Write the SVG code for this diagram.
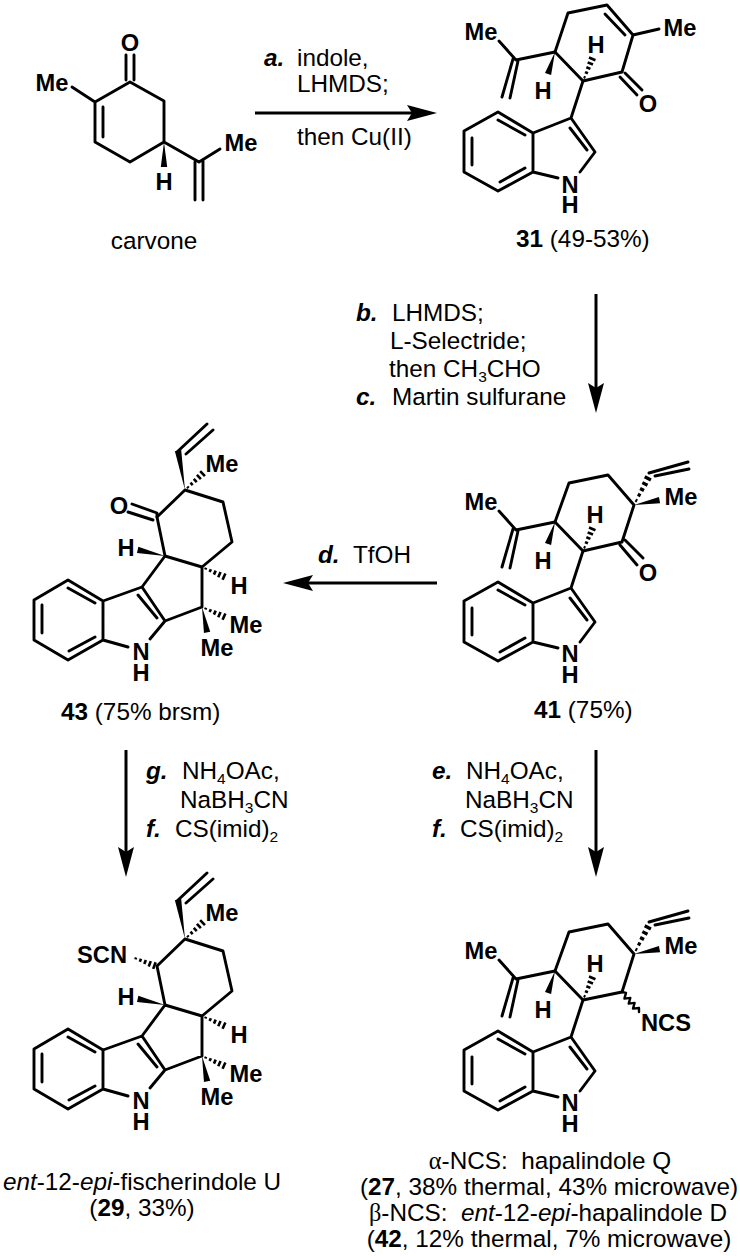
<svg xmlns="http://www.w3.org/2000/svg" width="740" height="1256" viewBox="0 0 740 1256">
<style>
text{font-family:"Liberation Sans",Arial,sans-serif;font-size:24.3px;fill:#000}
.a{font-weight:bold;font-size:23.7px}
.r{font-weight:bold;font-style:italic}
.c{text-anchor:middle}
.n{font-weight:bold}
.i{font-style:italic}
.g{font-family:"Liberation Serif","Times New Roman",serif}
.s{font-size:15.5px}
.bd{fill:none;stroke:#000;stroke-width:2.9;stroke-linejoin:round;stroke-linecap:round}
.hl{fill:none;stroke:#000;stroke-width:2.6}
.ar{fill:none;stroke:#000;stroke-width:3}
</style>
<defs>
<marker id="ah" markerUnits="userSpaceOnUse" markerWidth="30" markerHeight="18" refX="5" refY="9" orient="auto"><path d="M0 1L30 9L0 17L5 9Z" fill="#000"/></marker>
<polygon id="w" points="0,0 1,-3.2 1,3.2" fill="#000"/>
<path id="h" class="hl" d="M4 -1V1M9 -1.6V1.6M14 -2.2V2.2M19 -2.9V2.9M24 -3.5V3.5"/>
<g id="core">
<path class="bd" d="M533 133L498 112L464 131L464 172L498 191L533 172ZM498 120L525 135M472 138L472 165M500 182L525 168M533 133L571 118L595 152L580 172M533 172L558 178M570 128L587 150M571 118L583 81L555 52L516 60L499 41M513 59L502 97M518 61L510 98"/>
<use href="#w" transform="translate(555,52) rotate(107.6) scale(23,1)"/>
<use href="#h" transform="translate(583,81) rotate(-67.4)"/>
</g>
<g id="tetra">
<path class="bd" d="M103 601L68 580L34 600L34 640L68 660L103 640ZM68 588L95 603M42 605L42 633M69 651L95 637M103 601L142 587L165 621L150 639M103 640L128 647M142 587L165 556L202 567L202 607L165 621M138 595L157 618M165 556L157 517L185 490L223 502L232 542L202 567M177 452L207 424M186 454L213 430"/>
<use href="#w" transform="translate(185,490) rotate(-100) scale(40,1)"/>
<use href="#w" transform="translate(165,556) rotate(192.5) scale(28,1)"/>
<use href="#w" transform="translate(202,607) rotate(78.7) scale(26,1)"/>
<use href="#h" transform="translate(185,490) rotate(-43)"/>
<use href="#h" transform="translate(202,567) rotate(23.7)"/>
<use href="#h" transform="translate(202,607) rotate(23.7)"/>
</g>
</defs>

<g id="connectors">
<path class="ar" marker-end="url(#ah)" d="M255 113H412"/>
<path class="ar" marker-end="url(#ah)" d="M596 294V388"/>
<path class="ar" marker-end="url(#ah)" d="M437 583H308"/>
<path class="ar" marker-end="url(#ah)" d="M126 750V852"/>
<path class="ar" marker-end="url(#ah)" d="M596 750V852"/>
</g>

<g id="carvone">
<path class="bd" d="M72 87L95 102L130 82L164 101L164 142L130 162L95 142L95 102M103 107L103 137M126 55V80M134 55V80M164 142L199 162L220 149M195 162V200M203 160V200"/>
<use href="#w" transform="translate(164,142) rotate(90) scale(25,1)"/>
<text class="a c" x="130" y="51">O</text>
<text class="a c" x="52" y="91">Me</text>
<text class="a c" x="241" y="151">Me</text>
<text class="a c" x="164" y="190">H</text>
<text class="c" x="154" y="249">carvone</text>
</g>

<g id="cmpd31">
<use href="#core"/>
<path class="bd" d="M555 52L568 13L607 5L633 35L622 72L583 81M605 14L625 35M633 35L659 29M625 73L642 90M620 77L637 95"/>
<text class="a c" x="648" y="112">O</text>
<text class="a c" x="680" y="36">Me</text>
<text class="a c" x="481" y="40">Me</text>
<text class="a c" x="596" y="53">H</text>
<text class="a c" x="543" y="99">H</text>
<text class="a c" x="570" y="193">N</text>
<text class="a c" x="570" y="213">H</text>
<text x="516" y="247"><tspan class="n">31</tspan> (49-53%)</text>
</g>

<g id="cmpd41">
<use href="#core" transform="translate(0,470)"/>
<path class="bd" d="M555 522L569 483L608 475L634 505L622 542L583 551M625 540L643 558M620 545L637 565M649 473L688 462M655 476L689 469"/>
<use href="#w" transform="translate(634,505) rotate(-10.9) scale(26,1)"/>
<use href="#h" transform="translate(634,505) rotate(-62.6) scale(1.25,1)"/>
<text class="a c" x="648" y="581">O</text>
<text class="a c" x="681" y="505">Me</text>
<text class="a c" x="481" y="510">Me</text>
<text class="a c" x="595" y="523">H</text>
<text class="a c" x="543" y="569">H</text>
<text class="a c" x="570" y="662">N</text>
<text class="a c" x="570" y="683">H</text>
<text x="534" y="718"><tspan class="n">41</tspan> (75%)</text>
</g>

<g id="cmpd43">
<use href="#tetra"/>
<path class="bd" d="M132 504L157 513L157 517M128 512L153 520"/>
<text class="a c" x="119" y="514">O</text>
<text class="a c" x="222" y="472">Me</text>
<text class="a c" x="126" y="556">H</text>
<text class="a c" x="239" y="594">H</text>
<text class="a c" x="246" y="633">Me</text>
<text class="a c" x="217" y="656">Me</text>
<text class="a c" x="141" y="660">N</text>
<text class="a c" x="141" y="681">H</text>
<text x="61" y="720"><tspan class="n">43</tspan> (75% brsm)</text>
</g>

<g id="cmpd29">
<use href="#tetra" transform="translate(0,449)"/>
<use href="#h" transform="translate(132,957) rotate(21)"/>
<text class="a c" x="102" y="963">SCN</text>
<text class="a c" x="222" y="921">Me</text>
<text class="a c" x="126" y="1005">H</text>
<text class="a c" x="239" y="1043">H</text>
<text class="a c" x="246" y="1082">Me</text>
<text class="a c" x="217" y="1105">Me</text>
<text class="a c" x="141" y="1109">N</text>
<text class="a c" x="141" y="1130">H</text>
<text class="c" x="142" y="1190"><tspan class="i">ent</tspan>-12-<tspan class="i">epi</tspan>-fischerindole U</text>
<text class="c" x="142" y="1216">(<tspan class="n">29</tspan>, 33%)</text>
</g>

<g id="cmpd27">
<use href="#core" transform="translate(0,919)"/>
<path class="bd" d="M555 971L569 932L608 924L634 954L622 992L583 1000M649 922L688 911M655 925L689 918"/>
<path class="bd" style="stroke-width:2.4" d="M622 992L626 992.9L624.4 998.6L630.3 997.9L628.7 1003.6L634.6 1002.9L633 1008.6L639 1008L639 1012"/>
<use href="#w" transform="translate(634,954) rotate(-10.9) scale(26,1)"/>
<use href="#h" transform="translate(634,954) rotate(-62.6) scale(1.25,1)"/>
<text class="a c" x="666" y="1031">NCS</text>
<text class="a c" x="681" y="954">Me</text>
<text class="a c" x="481" y="959">Me</text>
<text class="a c" x="595" y="972">H</text>
<text class="a c" x="543" y="1018">H</text>
<text class="a c" x="570" y="1111">N</text>
<text class="a c" x="570" y="1132">H</text>
<text class="c" x="550" y="1169"><tspan class="g">α</tspan>-NCS:&#160;&#160;hapalindole Q</text>
<text class="c" x="549" y="1195">(<tspan class="n">27</tspan>, 38% thermal, 43% microwave)</text>
<text class="c" x="548" y="1221"><tspan class="g">β</tspan>-NCS:&#160;&#160;<tspan class="i">ent</tspan>-12-<tspan class="i">epi</tspan>-hapalindole D</text>
<text class="c" x="549" y="1247">(<tspan class="n">42</tspan>, 12% thermal, 7% microwave)</text>
</g>

<g id="reagents">
<text class="r" x="264" y="66">a.</text><text x="297" y="66">indole,</text>
<text x="297" y="92">LHMDS;</text>
<text x="297" y="145">then Cu(II)</text>
<text class="r" x="356" y="321">b.</text><text x="392" y="321">LHMDS;</text>
<text x="390" y="349">L-Selectride;</text>
<text x="389" y="377">then CH<tspan class="s" dy="5">3</tspan><tspan dy="-5">CHO</tspan></text>
<text class="r" x="356" y="405">c.</text><text x="392" y="405">Martin sulfurane</text>
<text class="r" x="318" y="563">d.</text><text x="353" y="563">TfOH</text>
<text class="r" x="146" y="779">g.</text><text x="182" y="779">NH<tspan class="s" dy="5">4</tspan><tspan dy="-5">OAc,</tspan></text>
<text x="180" y="808">NaBH<tspan class="s" dy="5">3</tspan><tspan dy="-5">CN</tspan></text>
<text class="r" x="146" y="837">f.</text><text x="175" y="837">CS(imid)<tspan class="s" dy="5">2</tspan></text>
<text class="r" x="432" y="779">e.</text><text x="466" y="779">NH<tspan class="s" dy="5">4</tspan><tspan dy="-5">OAc,</tspan></text>
<text x="465" y="808">NaBH<tspan class="s" dy="5">3</tspan><tspan dy="-5">CN</tspan></text>
<text class="r" x="432" y="837">f.</text><text x="460" y="837">CS(imid)<tspan class="s" dy="5">2</tspan></text>
</g>
</svg>
